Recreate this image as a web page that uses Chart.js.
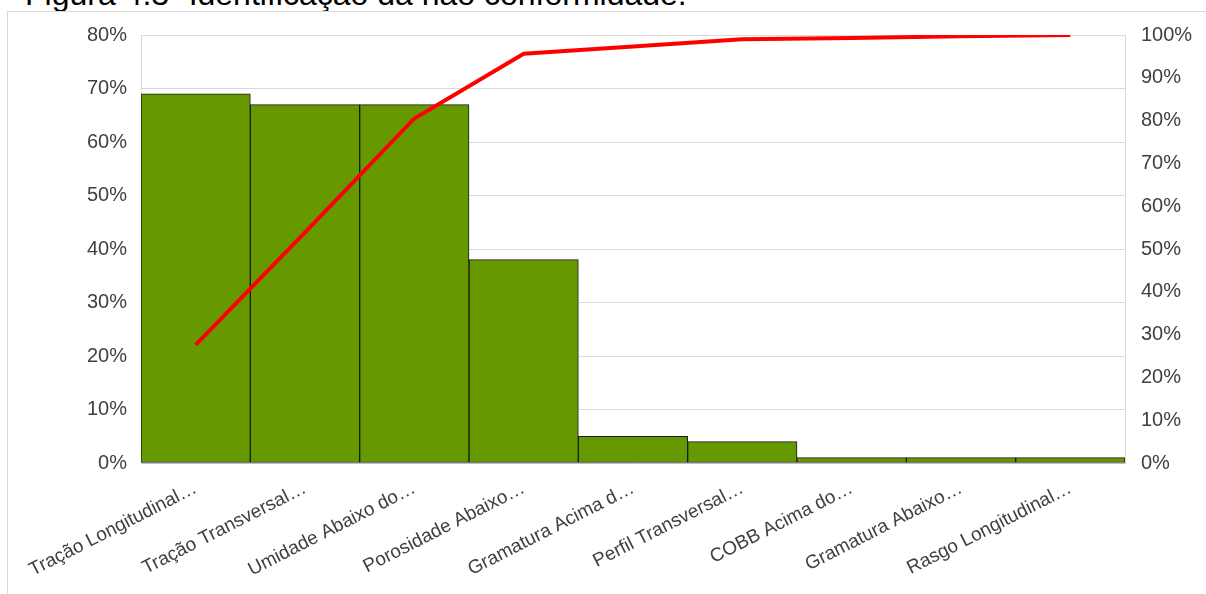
<!DOCTYPE html>
<html lang="pt">
<head>
<meta charset="utf-8">
<script src="https://cdn.jsdelivr.net/npm/chart.js@4.4.1/dist/chart.umd.min.js"></script>
<style>
    html, body { margin: 0; padding: 0; background: #fff; overflow: hidden; }
    body { width: 1206px; height: 594px; position: relative; font-family: "Liberation Sans", Arial, sans-serif; }
    #titulo {
        position: absolute; left: 25px; top: -22px;
        font-size: 32px; line-height: 32px; color: #000; white-space: nowrap;
    }
    #moldura {
        position: absolute; left: 7px; top: 11px; width: 1210px; height: 600px;
        border-left: 1px solid #d9d9d9; border-top: 1px solid #d9d9d9;
    }
    #grafico-box { position: absolute; left: 8px; top: 7px; width: 1198px; height: 587px; }
</style>
</head>
<body>
<div id="titulo">Figura 4.3- Identificação da não conformidade.</div>
<div id="moldura"></div>
<div id="grafico-box"><canvas id="grafico"></canvas></div>
<script>
// Categorias de não conformidade
const categorias = [
    'Tração Longitudinal…',
    'Tração Transversal…',
    'Umidade Abaixo do…',
    'Porosidade Abaixo…',
    'Gramatura Acima d…',
    'Perfil Transversal…',
    'COBB Acima do…',
    'Gramatura Abaixo…',
    'Rasgo Longitudinal…'
];

// Percentual de ocorrência (eixo esquerdo)
const ocorrencia = [69, 67, 67, 38, 5, 4, 1, 1, 1];

// Percentual acumulado (eixo direito)
const acumulado = [27.6, 53.9, 80.5, 95.6, 97.3, 99.0, 99.3, 99.7, 100];

const corTexto = '#404040';
const corGrade = '#d9d9d9';

new Chart(document.getElementById('grafico'), {
    data: {
        labels: categorias,
        datasets: [
            {
                type: 'line',
                data: acumulado,
                yAxisID: 'y2',
                borderColor: '#ff0000',
                borderWidth: 4,
                pointRadius: 0,
                tension: 0,
                order: 0
            },
            {
                type: 'bar',
                data: ocorrencia,
                yAxisID: 'y',
                backgroundColor: '#669900',
                borderColor: '#1a1a1a',
                borderWidth: 1,
                borderSkipped: false,
                barPercentage: 1,
                categoryPercentage: 1,
                order: 1
            }
        ]
    },
    options: {
        responsive: true,
        maintainAspectRatio: false,
        animation: false,
        layout: { padding: { top: 13, left: 0, right: 0, bottom: 0 } },
        plugins: {
            legend: { display: false },
            tooltip: { enabled: false }
        },
        scales: {
            x: {
                grid: { display: false, drawTicks: false },
                border: { color: '#bfbfbf', width: 1 },
                ticks: {
                    color: corTexto,
                    font: { family: 'Liberation Sans', size: 19 },
                    minRotation: 27,
                    maxRotation: 27,
                    autoSkip: false,
                    padding: 14
                },
                afterFit: (s) => { s.height = 131; }
            },
            y: {
                position: 'left',
                min: 0,
                max: 80,
                grid: { color: corGrade, drawTicks: false },
                border: { color: corGrade },
                ticks: {
                    stepSize: 10,
                    color: corTexto,
                    font: { family: 'Liberation Sans', size: 20 },
                    padding: 14,
                    callback: (v) => v + '%'
                },
                afterFit: (s) => { s.width = 133; }
            },
            y2: {
                position: 'right',
                min: 0,
                max: 100,
                grid: { display: false, drawTicks: false },
                border: { color: corGrade },
                ticks: {
                    stepSize: 10,
                    color: corTexto,
                    font: { family: 'Liberation Sans', size: 20 },
                    padding: 16,
                    callback: (v) => v + '%'
                },
                afterFit: (s) => { s.width = 81; }
            }
        }
    }
});
</script>
</body>
</html>
